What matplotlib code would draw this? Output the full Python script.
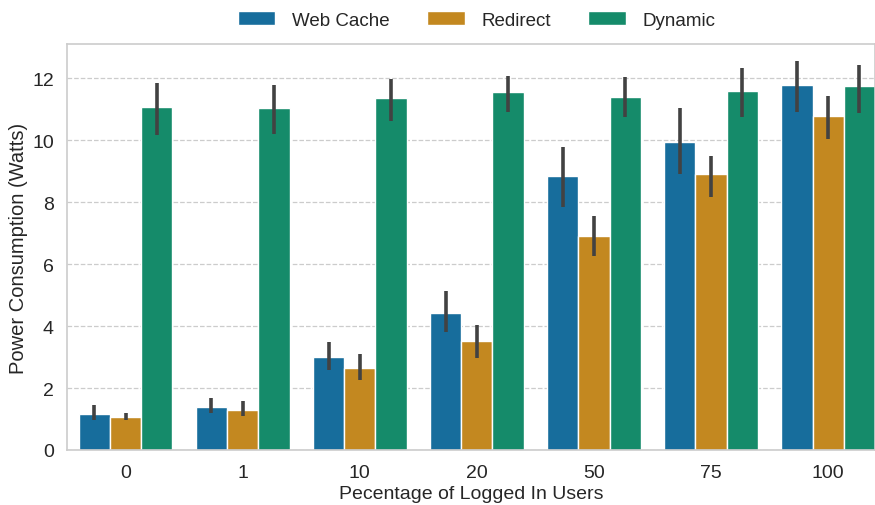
import numpy as np
import matplotlib
matplotlib.use("Agg")
import matplotlib.pyplot as plt
import seaborn as sns

groups = ["0", "1", "10", "20", "50", "75", "100"]
series = ["Web Cache", "Redirect", "Dynamic"]

# mean values (Watts)
web_cache = [1.15, 1.40, 3.00, 4.43, 8.85, 9.95, 11.79]
redirect = [1.06, 1.29, 2.66, 3.51, 6.90, 8.91, 10.79]
dynamic = [11.08, 11.04, 11.37, 11.56, 11.40, 11.59, 11.76]

# error bar bounds (low, high)
web_cache_lo = [0.98, 1.19, 2.58, 3.80, 7.85, 8.91, 10.92]
web_cache_hi = [1.44, 1.69, 3.47, 5.14, 9.78, 11.05, 12.55]
redirect_lo = [0.98, 1.09, 2.27, 2.96, 6.26, 8.16, 10.05]
redirect_hi = [1.19, 1.58, 3.11, 4.04, 7.56, 9.49, 11.41]
dynamic_lo = [10.16, 10.18, 10.60, 10.89, 10.75, 10.73, 10.86]
dynamic_hi = [11.84, 11.79, 11.98, 12.08, 12.05, 12.33, 12.42]

sns.set_theme(style="whitegrid")
plt.rcParams['font.family'] = ['Liberation Sans', 'DejaVu Sans']

palette = [sns.desaturate(c, 0.75) for c in sns.color_palette("colorblind", 3)]

fig = plt.figure(figsize=(8.75, 5.06), dpi=100)
ax = fig.add_axes([0.0766, 0.1087, 0.9234, 0.8024])

x = np.arange(len(groups))
width = 0.8 / 3
means = [web_cache, redirect, dynamic]
lows = [web_cache_lo, redirect_lo, dynamic_lo]
highs = [web_cache_hi, redirect_hi, dynamic_hi]

for i, name in enumerate(series):
    pos = x + (i - 1) * width
    m = np.array(means[i])
    err = [m - np.array(lows[i]), np.array(highs[i]) - m]
    ax.bar(pos, m, width=width, color=palette[i], edgecolor='white',
           linewidth=1, label=name, zorder=2)
    ax.errorbar(pos, m, yerr=err, fmt='none', ecolor='#424242',
                elinewidth=2.6, capsize=0, zorder=3)

ax.set_xlim(-0.5, 6.4)
ax.set_ylim(0, 13.1)
ax.set_yticks([0, 2, 4, 6, 8, 10, 12])
ax.set_xticks(x)
ax.set_xticklabels(groups)
ax.tick_params(axis='both', labelsize=14, colors='#262626')
ax.tick_params(axis='x', pad=4)
ax.grid(axis='x', visible=False)
ax.grid(axis='y', linestyle='--', color='#cccccc', linewidth=0.9)
ax.set_axisbelow(True)
for s in ax.spines.values():
    s.set_color('#cccccc')
    s.set_linewidth(1.2)

ax.set_xlabel("Pecentage of Logged In Users", fontsize=14, color='#262626', labelpad=3)
ax.set_ylabel("Power Consumption (Watts)", fontsize=14.5, color='#262626', labelpad=3)

ax.legend(loc='lower center', bbox_to_anchor=(0.507, 1.005), ncol=3, frameon=False,
          fontsize=13.5, handlelength=2.0, handleheight=0.75, handletextpad=0.9,
          columnspacing=2.0, borderaxespad=0.3)

fig.savefig("out.png", dpi=100)
